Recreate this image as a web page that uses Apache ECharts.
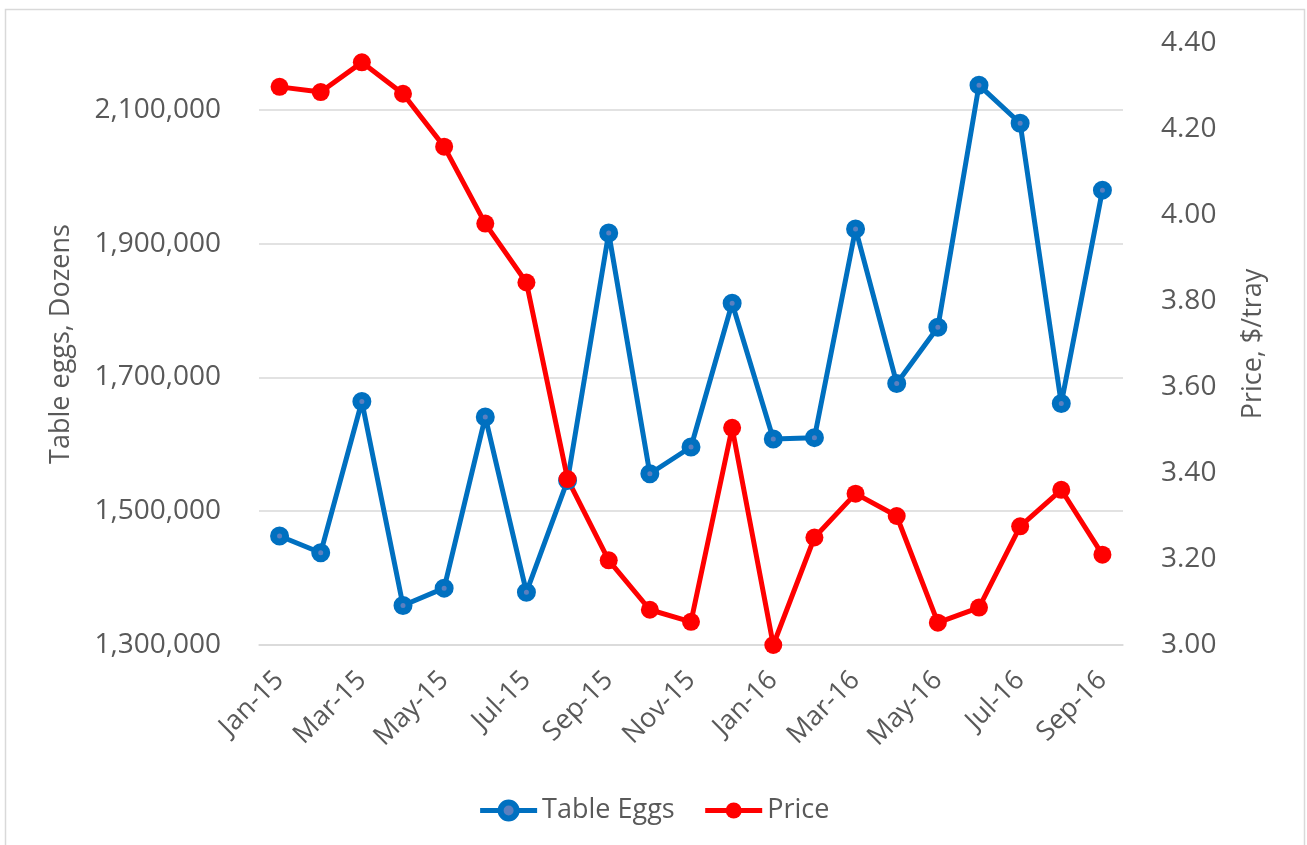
<!DOCTYPE html>
<html lang="en" style="height: 100%">
<head>
  <meta charset="utf-8">
</head>
<body style="height: 100%; margin: 0">
  <div id="container" style="width: 1307px; height: 845px"></div>

  <script type="text/javascript" src="https://fastly.jsdelivr.net/npm/echarts@6.0.0/dist/echarts.min.js"></script>
  <script type="text/javascript">
    // months on the x axis
    var months = ['Jan-15', 'Feb-15', 'Mar-15', 'Apr-15', 'May-15', 'Jun-15', 'Jul-15',
      'Aug-15', 'Sep-15', 'Oct-15', 'Nov-15', 'Dec-15', 'Jan-16', 'Feb-16', 'Mar-16',
      'Apr-16', 'May-16', 'Jun-16', 'Jul-16', 'Aug-16', 'Sep-16'];
    // Table eggs, dozens
    var tableEggs = [1463000, 1438000, 1664000, 1359000, 1385000, 1641000, 1379000,
      1546000, 1916000, 1556000, 1596000, 1811000, 1608000, 1610000, 1922000,
      1691000, 1775000, 2137000, 2080000, 1661000, 1980000];
    // price, $/tray
    var price = [4.298, 4.286, 4.355, 4.282, 4.159, 3.980, 3.843,
      3.386, 3.197, 3.082, 3.054, 3.505, 3.000, 3.250, 3.352,
      3.300, 3.052, 3.087, 3.276, 3.361, 3.210];

    var txt = '#595959';
    var font = 'Open Sans';

    var dom = document.getElementById('container');
    var myChart = echarts.init(dom, null, { renderer: 'canvas' });

    var option = {
      backgroundColor: '#fff',
      textStyle: { fontFamily: font },
      graphic: [{
        type: 'rect',
        shape: { x: 5.5, y: 9.5, width: 1299, height: 850 },
        style: { fill: 'none', stroke: '#D9D9D9', lineWidth: 1.5 },
        silent: true
      }],
      grid: { left: 259, right: 184, top: 43, bottom: 200 },
      legend: {
        bottom: 16,
        left: 'center',
        itemWidth: 57,
        itemHeight: 20,
        itemGap: 28,
        textStyle: { color: txt, fontSize: 27, fontFamily: font },
        data: [
          { name: 'Table Eggs', lineStyle: { width: 5 }, itemStyle: { borderWidth: 6 } },
          { name: 'Price', lineStyle: { width: 5 } }
        ]
      },
      xAxis: {
        type: 'category',
        data: months,
        boundaryGap: true,
        axisLine: { lineStyle: { color: '#D9D9D9', width: 1.5 } },
        axisTick: { show: false },
        axisLabel: {
          interval: 1,
          rotate: 45,
          margin: 31,
          color: txt,
          fontSize: 27,
          fontFamily: font
        }
      },
      yAxis: [{
        type: 'value',
        name: 'Table eggs, Dozens',
        nameLocation: 'middle',
        nameRotate: 90,
        nameGap: 184,
        nameTextStyle: { color: txt, fontSize: 27, fontFamily: font },
        min: 1300000,
        max: 2200000,
        interval: 200000,
        axisLine: { show: false },
        axisTick: { show: false },
        axisLabel: {
          color: txt,
          fontSize: 28,
          margin: 38,
          showMaxLabel: false,
          formatter: function (v) { return v.toLocaleString('en-US'); }
        },
        splitLine: { showMaxLine: false, lineStyle: { color: '#D9D9D9', width: 1.5 } }
      }, {
        type: 'value',
        name: 'Price, $/tray',
        nameLocation: 'middle',
        nameRotate: 90,
        nameGap: 117,
        nameTextStyle: { color: txt, fontSize: 27, fontFamily: font },
        min: 3,
        max: 4.4,
        interval: 0.2,
        axisLine: { show: false },
        axisTick: { show: false },
        axisLabel: {
          color: txt,
          fontSize: 28,
          margin: 38,
          formatter: function (v) { return v.toFixed(2); }
        },
        splitLine: { show: false }
      }],
      series: [{
        name: 'Table Eggs',
        type: 'line',
        yAxisIndex: 0,
        data: tableEggs,
        symbol: 'circle',
        symbolSize: 12,
        lineStyle: { color: '#0070C0', width: 5 },
        itemStyle: { color: '#5B80C0', borderColor: '#0070C0', borderWidth: 7 }
      }, {
        name: 'Price',
        type: 'line',
        yAxisIndex: 1,
        data: price,
        symbol: 'circle',
        symbolSize: 18,
        lineStyle: { color: '#FF0000', width: 5 },
        itemStyle: { color: '#FF0000', borderWidth: 0 }
      }]
    };

    myChart.setOption(option);
    window.addEventListener('resize', myChart.resize);
  </script>
</body>
</html>
